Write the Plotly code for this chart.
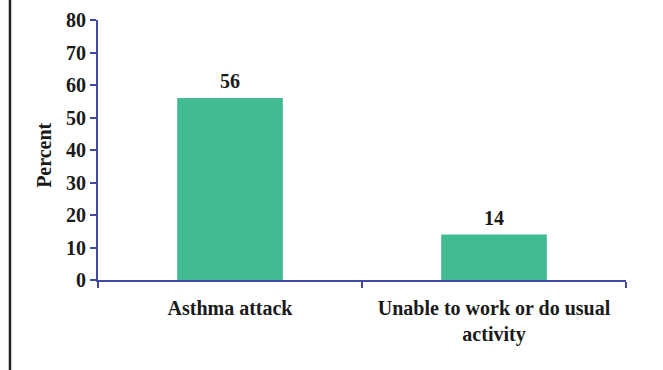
import plotly.graph_objects as go

categories = ["Asthma attack", "Unable to work or do usual<br>activity"]
values = [56, 14]
y_ticks = [0, 10, 20, 30, 40, 50, 60, 70, 80]
y_title = "Percent"

BAR = "#41BC91"
AXIS = "#3F48A8"
TXT = "#1a1a1a"
FONT = "Liberation Serif, Times New Roman, serif"
FS = 20

fig = go.Figure()
fig.add_trace(go.Bar(x=categories, y=values, marker=dict(color=BAR, line=dict(width=0)),
                     hoverinfo="skip"))

for c, v in zip(categories, values):
    fig.add_annotation(x=c, y=v, text=str(v), showarrow=False, yanchor="bottom", yshift=4,
                       font=dict(family=FONT, size=FS, color=TXT, weight="bold"))

fig.add_annotation(xref="paper", yref="paper", x=-0.101, y=0.48, text=y_title, textangle=-90,
                   showarrow=False, xanchor="center", yanchor="middle",
                   font=dict(family=FONT, size=FS, color=TXT, weight="bold"))

fig.update_layout(
    width=663, height=370,
    margin=dict(l=98, r=37, t=20, b=90),
    paper_bgcolor="white", plot_bgcolor="white",
    bargap=0.6, showlegend=False,
    font=dict(family=FONT, size=FS, color=TXT),
)
fig.update_yaxes(range=[0, 80], tickvals=y_ticks, ticks="outside", ticklen=6, tickwidth=2,
                 tickcolor=AXIS, showline=True, linecolor=AXIS, linewidth=2, showgrid=False,
                 zeroline=False, automargin=False,
                 tickfont=dict(family=FONT, size=FS, color=TXT, weight="bold"))
fig.update_xaxes(tickson="boundaries", ticks="outside", ticklen=6, tickwidth=2, tickcolor=AXIS,
                 showline=True, linecolor=AXIS, linewidth=2, showgrid=False, automargin=False,
                 ticklabelstandoff=9,
                 tickfont=dict(family=FONT, size=FS, color=TXT, weight="bold"))

fig.add_shape(type="line", xref="paper", yref="paper", x0=-0.1667, x1=-0.1667,
              y0=-0.36, y1=1.08, line=dict(color="#222222", width=2.5))

fig.write_html("out.html", config={"displayModeBar": False},
               post_script="document.body.style.margin='0';")
